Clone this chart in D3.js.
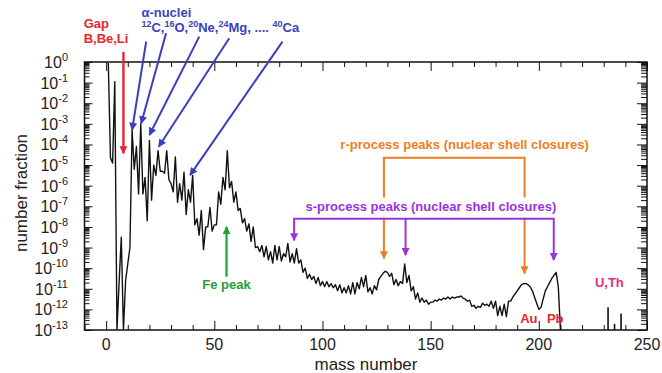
<!DOCTYPE html>
<html>
<head>
<meta charset="utf-8">
<script src="https://cdn.jsdelivr.net/npm/d3@7"></script>
<style>
body { margin: 0; background: #fff; }
svg { display: block; }
text { font-family: "Liberation Sans", Arial, Helvetica, sans-serif; white-space: pre; }
.note { font-weight: bold; font-size: 13px; }
</style>
</head>
<body>
<svg width="662" height="373"></svg>
<script>
// log10 of the number fraction, for mass number A = 1, 2, 3, ... 210 (null = no stable nucleus)
let firstMass = 1;
let logFraction = [
    -0.04, -4.65, -4.9, -0.95, null, -10.7, -8.5, null, -10.6, -9.8,
    -9.0, -3.3, -5.2, -4.1, -6.4, -3.0, -6.4, -5.6, -7.7, -3.8,
    -6.7, -5.0, -5.5, -4.3, -5.3, -5.3, -5.4, -4.3, -5.7, -5.9,
    -6.3, -4.6, -6.8, -5.9, -6.7, -5.35, -7.4, -6.2, -6.8, -5.5,
    -7.9, -7.6, -8.4, -7.2, -9.1, -8.0, -8.0, -7.05, -8.2, -7.9,
    -7.9, -6.3, -6.9, -5.6, -6.2, -4.3, -6.1, -5.8, -6.8, -6.3,
    -7.2, -7.1, -7.8, -7.6, -8.2, -7.85, -8.7, -8.0, -9.0, -8.95,
    -9.2, -8.9, -9.45, -8.95, -9.6, -9.2, -9.75, -8.9, -9.6, -8.95,
    -9.65, -9.3, -9.45, -8.8, -9.7, -9.3, -9.75, -9.05, -9.75, -9.6,
    -10.2, -10.0, -10.5, -10.3, -10.55, -10.4, -10.75, -10.45, -10.85, -10.65,
    -10.9, -10.65, -10.9, -10.75, -10.95, -10.8, -11.1, -10.8, -11.2, -10.95,
    -11.2, -10.85, -11.25, -10.7, -11.25, -10.7, -11.0, -10.45, -10.9, -10.35,
    -11.15, -10.95, -11.25, -10.85, -11.05, -10.55, -10.4, -10.25, -10.15, -10.2,
    -10.4, -10.25, -10.8, -10.55, -10.85, -10.65, -10.75, -9.8, -10.7, -10.35,
    -11.1, -10.9, -11.5, -11.2, -11.65, -11.45, -11.65, -11.55, -11.75, -11.65,
    -11.65, -11.55, -11.6, -11.5, -11.55, -11.45, -11.5, -11.4, -11.5, -11.4,
    -11.45, -11.4, -11.4, -11.35, -11.45, -11.5, -11.6, -11.55, -11.85, -11.8,
    -11.95, -11.85, -11.9, -11.7, -11.8, -11.75, -11.85, -11.6, -11.95, -11.6,
    -12.3, -11.85, -12.3, -11.75, -12.35, -11.6, -11.6, -11.4, -11.25, -11.1,
    -10.95, -10.8, -10.75, -10.75, -10.8, -10.9, -11.1, -11.4, -11.7, -12.0,
    -11.9, -11.5, -11.1, -10.9, -10.7, -10.5, -10.35, -10.2, -10.9, null
];
// Th and U, drawn as sticks
let actinideMass = [232, 235, 238];
let actinideLog = [-11.9, -12.7, -12.2];

let xTickValues = [0, 50, 100, 150, 200, 250];
let xMinorValues = [-10, 10, 20, 30, 40, 60, 70, 80, 90, 110, 120, 130, 140, 160, 170, 180, 190, 210, 220, 230, 240];
let yExponents = [0, -1, -2, -3, -4, -5, -6, -7, -8, -9, -10, -11, -12, -13];

let svg = d3.select("svg");
let x = d3.scaleLinear().domain([-10, 250]).range([84.5, 647]);
let y = d3.scaleLog().domain([1e-13, 1]).range([330, 62]);
let ly = e => y(Math.pow(10, e));

let points = logFraction.map((v, i) => ({ mass: firstMass + i, log: v }));

// clip
svg.append("clipPath").attr("id", "plot")
    .append("rect").attr("x", x(-10)).attr("y", y(1))
    .attr("width", x(250) - x(-10)).attr("height", y(1e-13) - y(1));

// ticks
let minorY = [];
yExponents.slice(1).forEach(e => {
    for (let k = 2; k <= 9; k++) minorY.push(k * Math.pow(10, e));
});
let majorY = yExponents.map(e => Math.pow(10, e));

let axes = svg.append("g").attr("class", "axes");
function tickAxis(axis, translate, size, values) {
    let g = axes.append("g")
        .attr("transform", translate)
        .call(axis.tickValues(values).tickSize(-size).tickFormat(""));
    g.select(".domain").remove();
    g.selectAll("line").attr("stroke", "#111");
    return g;
}
tickAxis(d3.axisBottom(x), `translate(0,${y(1e-13)})`, 9, xTickValues);
tickAxis(d3.axisBottom(x), `translate(0,${y(1e-13)})`, 5, xMinorValues);
tickAxis(d3.axisTop(x), `translate(0,${y(1)})`, 9, xTickValues);
tickAxis(d3.axisTop(x), `translate(0,${y(1)})`, 5, xMinorValues);
tickAxis(d3.axisLeft(y), `translate(${x(-10)},0)`, 8, majorY);
tickAxis(d3.axisLeft(y), `translate(${x(-10)},0)`, 5, minorY);
tickAxis(d3.axisRight(y), `translate(${x(250)},0)`, 10, majorY);
tickAxis(d3.axisRight(y), `translate(${x(250)},0)`, 6, minorY);

// frame
axes.append("rect")
    .attr("x", x(-10)).attr("y", y(1))
    .attr("width", x(250) - x(-10)).attr("height", y(1e-13) - y(1))
    .attr("fill", "none").attr("stroke", "#111").attr("stroke-width", 1.5);

// x tick labels
axes.selectAll(".xlab").data(xTickValues).enter().append("text")
    .attr("class", "xlab")
    .attr("x", d => x(d)).attr("y", 350)
    .attr("text-anchor", "middle")
    .attr("font-size", 16).attr("fill", "#222")
    .text(d => d);

// y tick labels 10^n
let ylab = axes.selectAll(".ylab").data(yExponents).enter().append("text")
    .attr("class", "ylab")
    .attr("x", 68).attr("y", d => ly(d) + 6)
    .attr("text-anchor", "end")
    .attr("font-size", 16).attr("fill", "#222");
ylab.append("tspan").text("10");
ylab.append("tspan").attr("dy", -7).attr("font-size", 11).text(d => d);

// axis titles
svg.append("text")
    .attr("x", 366).attr("y", 370)
    .attr("text-anchor", "middle").attr("font-size", 17).attr("fill", "#222")
    .text("mass number");
svg.append("text")
    .attr("transform", "translate(27,193) rotate(-90)")
    .attr("text-anchor", "middle").attr("font-size", 17).attr("fill", "#222")
    .text("number fraction");

// abundance curve
let line = d3.line()
    .x(d => x(d.mass))
    .y(d => d.log == null ? y.range()[0] : ly(d.log));

let plot = svg.append("g").attr("clip-path", "url(#plot)");
plot.append("path")
    .datum(points)
    .attr("d", line)
    .attr("fill", "none")
    .attr("stroke", "#111")
    .attr("stroke-width", 1.4)
    .attr("stroke-linejoin", "round");

plot.selectAll(".stick").data(actinideMass).enter().append("line")
    .attr("class", "stick")
    .attr("x1", d => x(d)).attr("x2", d => x(d))
    .attr("y1", y.range()[0]).attr("y2", (d, i) => ly(actinideLog[i]))
    .attr("stroke", "#111").attr("stroke-width", 1.6);

// ---------- annotations ----------
let red = "#e8262e", blue = "#3a3fc0", green = "#22a03c",
    orange = "#f07d22", purple = "#9933dd", pink = "#e62d7d";

let defs = svg.append("defs");
function marker(color) {
    let id = "arrow" + color.slice(1);
    defs.append("marker")
        .attr("id", id)
        .attr("viewBox", "0 0 10 10")
        .attr("refX", 9).attr("refY", 5)
        .attr("markerUnits", "userSpaceOnUse")
        .attr("markerWidth", 9).attr("markerHeight", 8)
        .attr("orient", "auto-start-reverse")
        .append("path").attr("d", "M0,0 L10,5 L0,10 Z").attr("fill", color);
    return `url(#${id})`;
}

let notes = svg.append("g");

// gap arrow
notes.append("line")
    .attr("x1", x(8)).attr("x2", x(8))
    .attr("y1", ly(0.49)).attr("y2", ly(-4.43))
    .attr("stroke", red).attr("stroke-width", 2.4)
    .attr("marker-end", marker(red));
notes.append("text").attr("class", "note").attr("fill", red)
    .attr("x", x(-10.4)).attr("y", ly(1.65)).text("Gap");
notes.append("text").attr("class", "note").attr("fill", red)
    .attr("x", x(-10.4)).attr("y", ly(0.92)).text("B,Be,Li");

// alpha nuclei
let alphaArrows = [
    [[18.5, 0.99], [12.0, -3.3]],
    [[27.7, 1.39], [16.2, -2.98]],
    [[43.05, 1.23], [20.0, -3.54]],
    [[56.9, 1.15], [24.3, -4.11]],
    [[81.5, 0.99], [38.8, -5.49]]
];
let blueHead = marker(blue);
notes.selectAll(".alpha").data(alphaArrows).enter().append("line")
    .attr("x1", d => x(d[0][0])).attr("y1", d => ly(d[0][1]))
    .attr("x2", d => x(d[1][0])).attr("y2", d => ly(d[1][1]))
    .attr("stroke", blue).attr("stroke-width", 2)
    .attr("marker-end", blueHead);
notes.append("text").attr("class", "note").attr("fill", blue)
    .attr("x", x(16.3)).attr("y", ly(2.18)).text("α-nuclei");
let alphaLabel = notes.append("text").attr("class", "note").attr("fill", blue)
    .attr("x", x(16.3)).attr("y", ly(1.46));
[["12", "C,"], ["16", "O,"], ["20", "Ne,"], ["24", "Mg, .... "], ["40", "Ca"]].forEach(p => {
    alphaLabel.append("tspan").attr("font-size", 9).attr("dy", -5).text(p[0]);
    alphaLabel.append("tspan").attr("dy", 5).text(p[1]);
});

// Fe peak
notes.append("line")
    .attr("x1", x(55.65)).attr("x2", x(55.65))
    .attr("y1", ly(-10.42)).attr("y2", ly(-8.0))
    .attr("stroke", green).attr("stroke-width", 2.2)
    .attr("marker-end", marker(green));
notes.append("text").attr("class", "note").attr("fill", green)
    .attr("x", x(55.65)).attr("y", ly(-11.03))
    .attr("text-anchor", "middle").text("Fe peak");

// r-process bracket
let orangeHead = marker(orange);
notes.append("path")
    .attr("d", `M${x(128.4)},${ly(-9.53)} V${ly(-4.65)} H${x(193.4)} V${ly(-10.26)}`)
    .attr("fill", "none").attr("stroke", orange).attr("stroke-width", 2)
    .attr("marker-start", orangeHead).attr("marker-end", orangeHead);
notes.append("text").attr("class", "note").attr("fill", orange)
    .attr("x", x(165.7)).attr("y", ly(-4.2))
    .attr("text-anchor", "middle").text("r-process peaks (nuclear shell closures)");

// s-process bracket
let sText = notes.append("text").attr("class", "note").attr("fill", purple)
    .attr("x", x(150.1)).attr("y", ly(-7.21))
    .attr("text-anchor", "middle").text("s-process peaks (nuclear shell closures)");
let bb = sText.node().getBBox();
notes.insert("rect", () => sText.node())
    .attr("x", bb.x - 3).attr("y", bb.y - 1)
    .attr("width", bb.width + 6).attr("height", ly(-7.6) - bb.y)
    .attr("fill", "#fff");
let purpleHead = marker(purple);
notes.append("path")
    .attr("d", `M${x(86.9)},${ly(-8.66)} V${ly(-7.6)} H${x(206.9)} V${ly(-9.61)}`)
    .attr("fill", "none").attr("stroke", purple).attr("stroke-width", 2)
    .attr("marker-start", purpleHead).attr("marker-end", purpleHead);
notes.append("line")
    .attr("x1", x(138.4)).attr("x2", x(138.4))
    .attr("y1", ly(-7.6)).attr("y2", ly(-9.37))
    .attr("stroke", purple).attr("stroke-width", 2)
    .attr("marker-end", purpleHead);

// element labels
notes.append("text").attr("class", "note").attr("fill", red)
    .attr("x", x(195.4)).attr("y", ly(-12.65)).attr("text-anchor", "middle").text("Au");
notes.append("text").attr("class", "note").attr("fill", red)
    .attr("x", x(207.6)).attr("y", ly(-12.65)).attr("text-anchor", "middle").text("Pb");
notes.append("text").attr("class", "note").attr("fill", pink)
    .attr("x", x(232.6)).attr("y", ly(-10.9)).attr("text-anchor", "middle")
    .attr("font-size", 14).text("U,Th");
</script>
</body>
</html>
